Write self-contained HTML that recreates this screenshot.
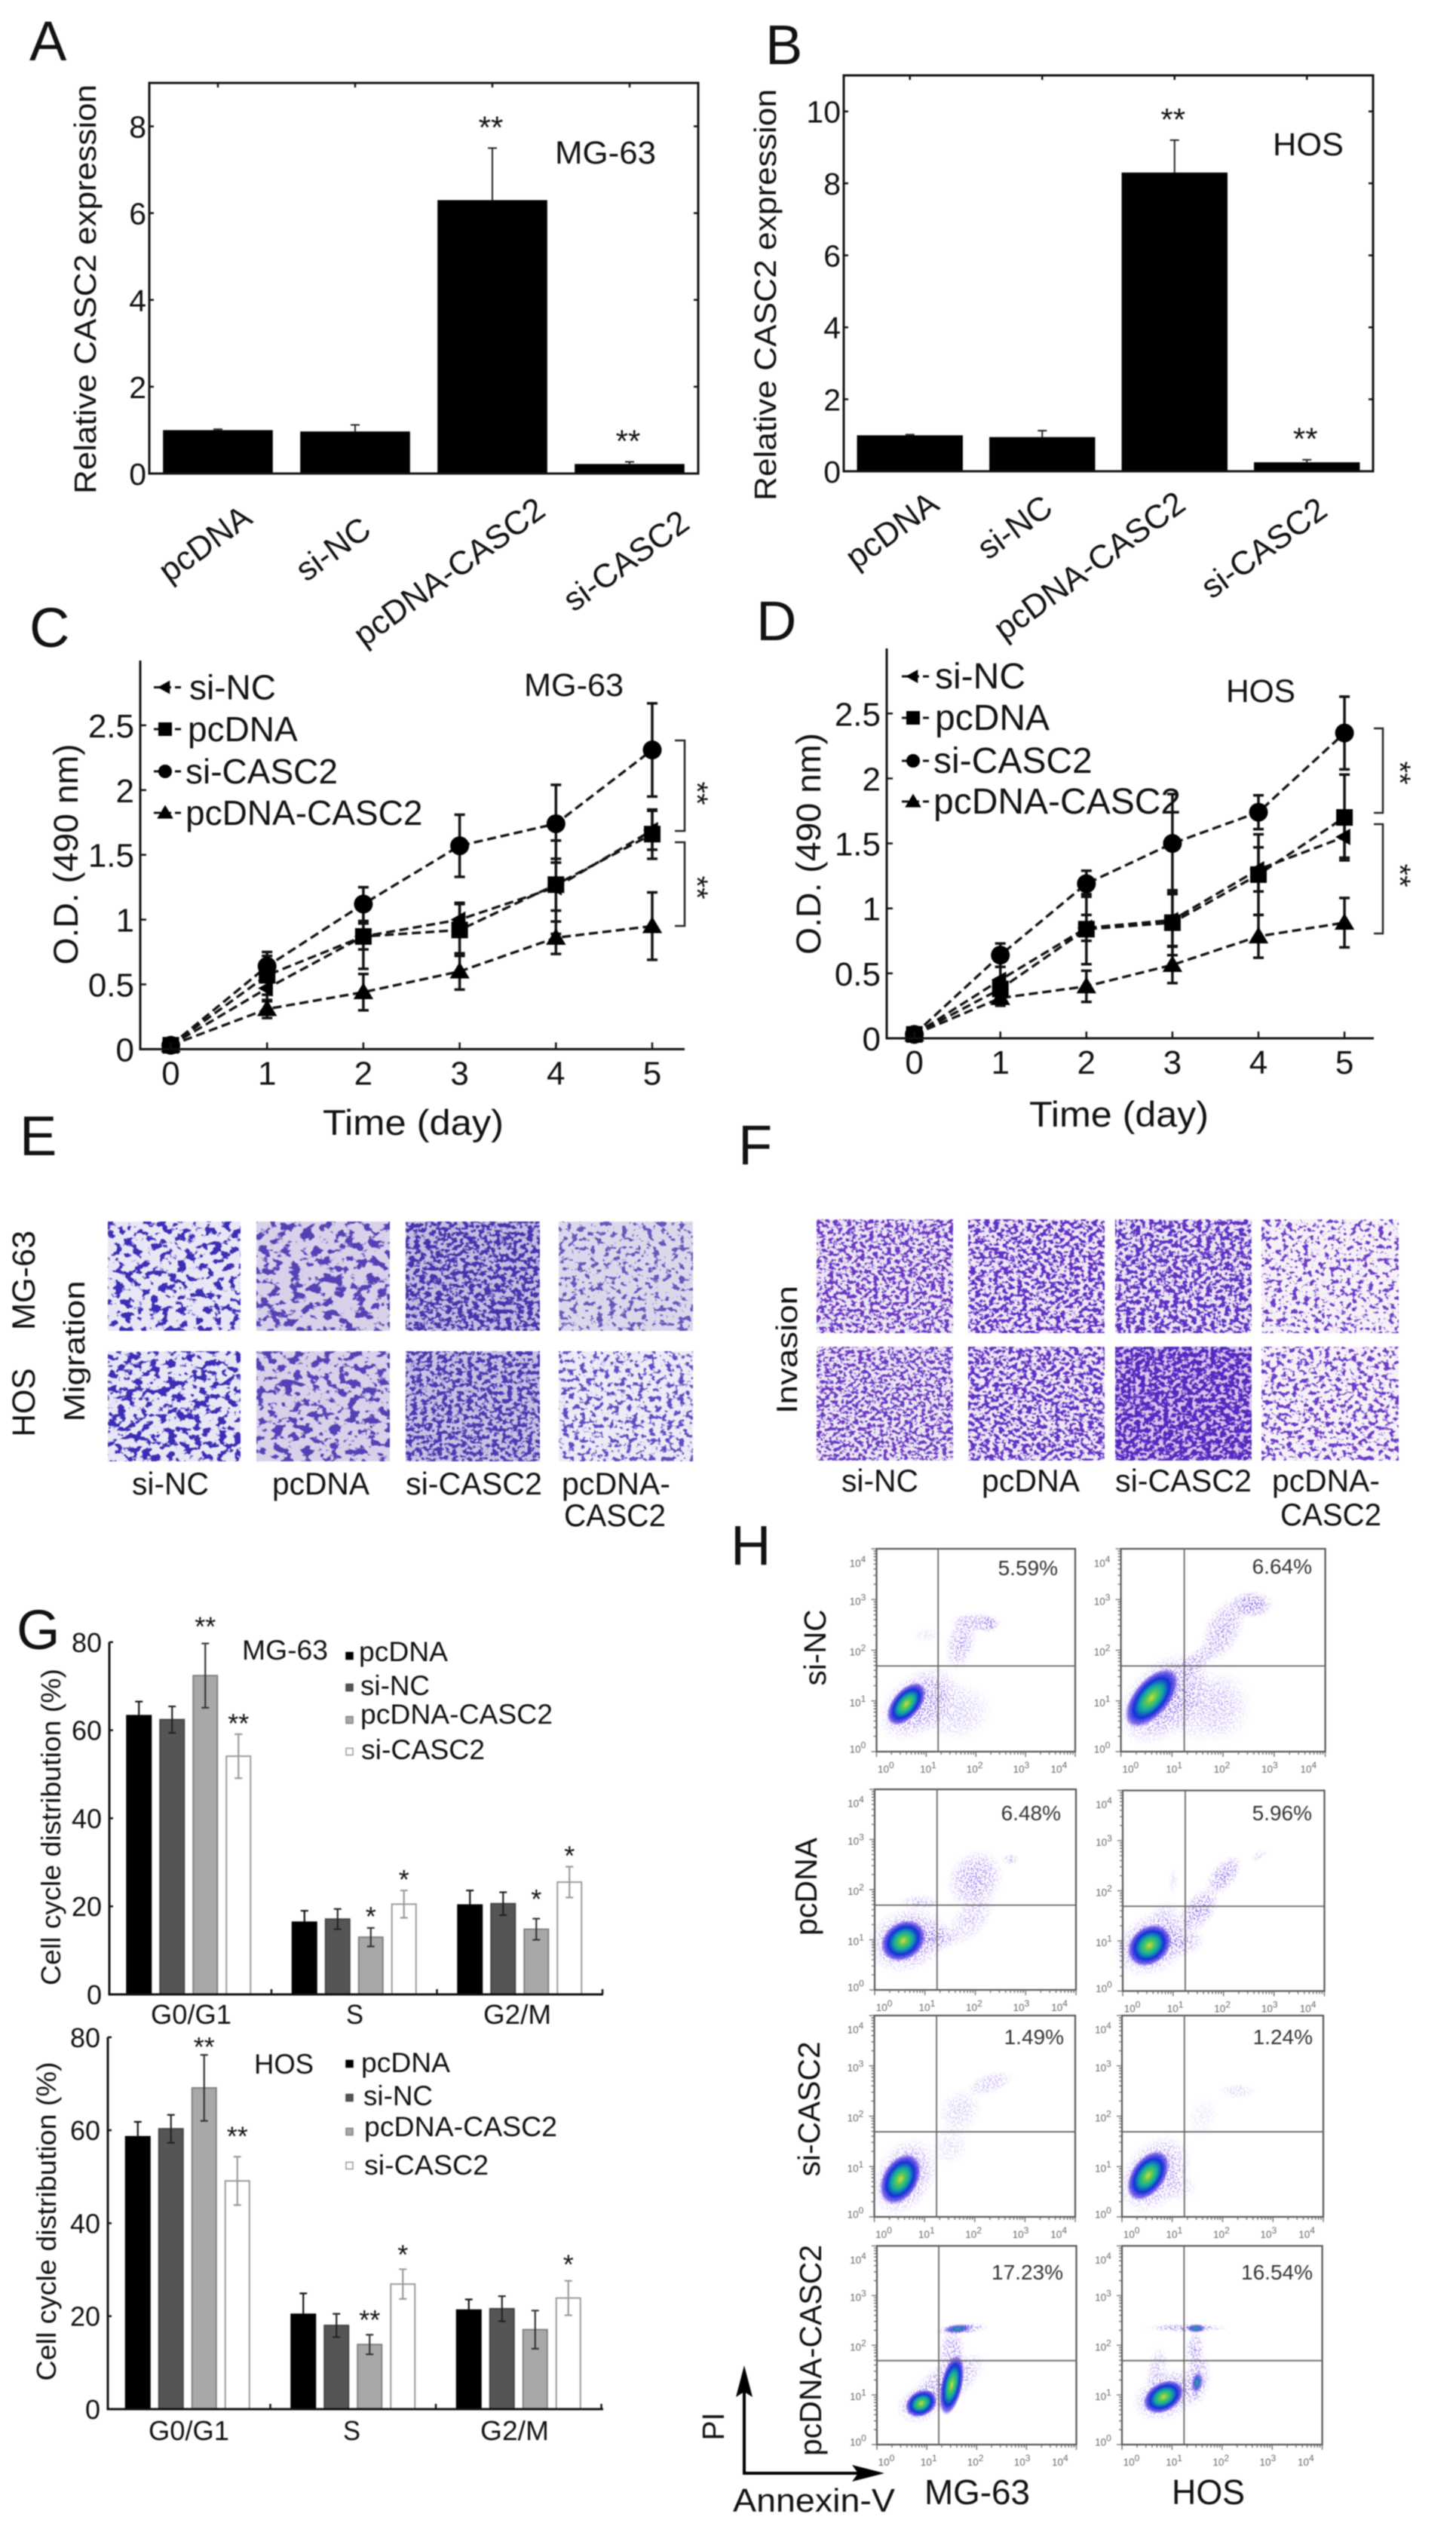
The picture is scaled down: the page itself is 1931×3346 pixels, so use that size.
<!DOCTYPE html>
<html>
<head>
<meta charset="utf-8">
<title>CASC2 figure</title>
<style>
html,body{margin:0;padding:0;background:#fff;}
svg{display:block;font-family:"Liberation Sans",sans-serif;fill:#111;filter:blur(0.7px);}
text{fill:#111;}
</style>
</head>
<body>
<svg id="fig" xmlns="http://www.w3.org/2000/svg" width="1931" height="3346" viewBox="0 0 1931 3346">
<defs id="defs">
  <radialGradient id="coreGrad">
    <stop offset="0" stop-color="#d2dc3c"/>
    <stop offset="0.2" stop-color="#58c858"/>
    <stop offset="0.42" stop-color="#12a8a0"/>
    <stop offset="0.66" stop-color="#1430d8"/>
    <stop offset="0.86" stop-color="#4a30e0" stop-opacity="0.7"/>
    <stop offset="1" stop-color="#8a60e8" stop-opacity="0"/>
  </radialGradient>
  <radialGradient id="weakGrad">
    <stop offset="0" stop-color="#3cb070"/>
    <stop offset="0.3" stop-color="#1a70c0"/>
    <stop offset="0.65" stop-color="#4a40e0" stop-opacity="0.7"/>
    <stop offset="1" stop-color="#8a60e8" stop-opacity="0"/>
  </radialGradient>
  <radialGradient id="hazeGrad">
    <stop offset="0" stop-color="#6a40e0"/>
    <stop offset="0.6" stop-color="#8a60e8" stop-opacity="0.7"/>
    <stop offset="1" stop-color="#b090f0" stop-opacity="0"/>
  </radialGradient>
  <filter id="speckle" x="-10%" y="-10%" width="120%" height="120%" color-interpolation-filters="sRGB">
    <feTurbulence type="fractalNoise" baseFrequency="0.5" numOctaves="1" seed="4" result="n"/>
    <feColorMatrix in="n" type="matrix" values="0 0 0 0 0 0 0 0 0 0 0 0 0 0 0 10 0 0 0 -5" result="m"/>
    <feComposite in="SourceGraphic" in2="m" operator="in"/>
  </filter>
</defs>

<!-- panel letters -->
<g font-size="74">
  <text x="39" y="80">A</text>
  <text x="1015" y="85">B</text>
  <text x="39" y="858">C</text>
  <text x="1003" y="849">D</text>
  <text x="26" y="1532">E</text>
  <text x="979" y="1544">F</text>
  <text x="22" y="2187">G</text>
  <text x="969" y="2075">H</text>
</g>

<!-- panel A/B static labels -->
<text transform="translate(127,383.5) rotate(-90)" text-anchor="middle" font-size="41" textLength="543" lengthAdjust="spacingAndGlyphs">Relative CASC2 expression</text>
<text x="736" y="217" font-size="43" textLength="134" lengthAdjust="spacingAndGlyphs">MG-63</text>
<text transform="translate(1029,391) rotate(-90)" text-anchor="middle" font-size="41" textLength="546" lengthAdjust="spacingAndGlyphs">Relative CASC2 expression</text>
<text x="1688" y="206" font-size="43" textLength="94" lengthAdjust="spacingAndGlyphs">HOS</text>

<!-- panel C/D static labels -->
<text transform="translate(103,1133) rotate(-90)" text-anchor="middle" font-size="45" textLength="293" lengthAdjust="spacingAndGlyphs">O.D. (490 nm)</text>
<text x="428" y="1505" font-size="47" textLength="240" lengthAdjust="spacingAndGlyphs">Time (day)</text>
<text x="695" y="923" font-size="43" textLength="132" lengthAdjust="spacingAndGlyphs">MG-63</text>
<path d="M895 982H908V1102H895M895 1117H908V1228H895" fill="none" stroke="#222" stroke-width="2.5"/>
<text transform="translate(911,1052) rotate(90)" text-anchor="middle" font-size="40">**</text>
<text transform="translate(911,1177) rotate(90)" text-anchor="middle" font-size="40">**</text>

<text transform="translate(1088,1119) rotate(-90)" text-anchor="middle" font-size="45" textLength="294" lengthAdjust="spacingAndGlyphs">O.D. (490 nm)</text>
<text x="1365" y="1494" font-size="47" textLength="238" lengthAdjust="spacingAndGlyphs">Time (day)</text>
<text x="1626" y="931" font-size="43" textLength="92" lengthAdjust="spacingAndGlyphs">HOS</text>
<path d="M1822 966H1834V1078H1822M1822 1093H1834V1238H1822" fill="none" stroke="#222" stroke-width="2.5"/>
<text transform="translate(1843,1025) rotate(90)" text-anchor="middle" font-size="40">**</text>
<text transform="translate(1843,1161) rotate(90)" text-anchor="middle" font-size="40">**</text>

<!-- panel E labels -->
<text transform="translate(46,1698) rotate(-90)" text-anchor="middle" font-size="43" textLength="132" lengthAdjust="spacingAndGlyphs">MG-63</text>
<text transform="translate(46,1860) rotate(-90)" text-anchor="middle" font-size="43" textLength="91" lengthAdjust="spacingAndGlyphs">HOS</text>
<text transform="translate(112,1792) rotate(-90)" text-anchor="middle" font-size="39" textLength="187" lengthAdjust="spacingAndGlyphs">Migration</text>
<g font-size="42">
  <text x="175" y="1982" textLength="102" lengthAdjust="spacingAndGlyphs">si-NC</text>
  <text x="361" y="1982" textLength="129" lengthAdjust="spacingAndGlyphs">pcDNA</text>
  <text x="538" y="1982" textLength="181" lengthAdjust="spacingAndGlyphs">si-CASC2</text>
  <text x="745" y="1982" textLength="144" lengthAdjust="spacingAndGlyphs">pcDNA-</text>
  <text x="748" y="2024" textLength="135" lengthAdjust="spacingAndGlyphs">CASC2</text>
</g>

<!-- panel F labels -->
<text transform="translate(1057,1790) rotate(-90)" text-anchor="middle" font-size="39" textLength="170" lengthAdjust="spacingAndGlyphs">Invasion</text>
<g font-size="42">
  <text x="1116" y="1978" textLength="102" lengthAdjust="spacingAndGlyphs">si-NC</text>
  <text x="1302" y="1978" textLength="130" lengthAdjust="spacingAndGlyphs">pcDNA</text>
  <text x="1479" y="1978" textLength="181" lengthAdjust="spacingAndGlyphs">si-CASC2</text>
  <text x="1687" y="1978" textLength="143" lengthAdjust="spacingAndGlyphs">pcDNA-</text>
  <text x="1698" y="2023" textLength="134" lengthAdjust="spacingAndGlyphs">CASC2</text>
</g>

<!-- panel G labels -->
<text transform="translate(80,2423) rotate(-90)" text-anchor="middle" font-size="36" textLength="420" lengthAdjust="spacingAndGlyphs">Cell cycle distribution (%)</text>
<text x="321" y="2201" font-size="37" textLength="114" lengthAdjust="spacingAndGlyphs">MG-63</text>
<text transform="translate(74,2946) rotate(-90)" text-anchor="middle" font-size="36" textLength="423" lengthAdjust="spacingAndGlyphs">Cell cycle distribution (%)</text>
<text x="337" y="2750" font-size="37" textLength="79" lengthAdjust="spacingAndGlyphs">HOS</text>

<!-- panel H labels -->
<text transform="translate(1095,2185) rotate(-90)" text-anchor="middle" font-size="41" textLength="101" lengthAdjust="spacingAndGlyphs">si-NC</text>
<text transform="translate(1083,2502) rotate(-90)" text-anchor="middle" font-size="41" textLength="130" lengthAdjust="spacingAndGlyphs">pcDNA</text>
<text transform="translate(1087,2797) rotate(-90)" text-anchor="middle" font-size="41" textLength="179" lengthAdjust="spacingAndGlyphs">si-CASC2</text>
<text transform="translate(1089,3117) rotate(-90)" text-anchor="middle" font-size="41" textLength="280" lengthAdjust="spacingAndGlyphs">pcDNA-CASC2</text>
<text transform="translate(960,3218) rotate(-90)" text-anchor="middle" font-size="41" textLength="37" lengthAdjust="spacingAndGlyphs">PI</text>
<text x="972" y="3331" font-size="44" textLength="215" lengthAdjust="spacingAndGlyphs">Annexin-V</text>
<text x="1226" y="3321" font-size="46" textLength="140" lengthAdjust="spacingAndGlyphs">MG-63</text>
<text x="1554" y="3321" font-size="46" textLength="97" lengthAdjust="spacingAndGlyphs">HOS</text>
<path d="M987 3160V3280H1150" fill="none" stroke="#000" stroke-width="4"/>
<path d="M987 3137L998 3179L987 3172L976 3179Z" fill="#000"/>
<path d="M1173 3280L1130 3269L1138 3280L1130 3291Z" fill="#000"/>

<g id="charts"></g>
</svg>

<script>
/* ---------- panels A / B data ---------- */
const exprCategories = ['pcDNA', 'si-NC', 'pcDNA-CASC2', 'si-CASC2'];
const exprStars = ['', '', '**', '**'];
const mgExprValues = [1.0, 0.97, 6.3, 0.22];
const mgExprErrors = [0.02, 0.15, 1.2, 0.05];
const mgExprTicks = [0, 2, 4, 6, 8];
const hosExprValues = [1.0, 0.95, 8.3, 0.25];
const hosExprErrors = [0.02, 0.18, 0.9, 0.07];
const hosExprTicks = [0, 2, 4, 6, 8, 10];

/* ---------- panels C / D data ---------- */
const days = [0, 1, 2, 3, 4, 5];
const odTicks = [0, 0.5, 1, 1.5, 2, 2.5];
const odSeriesNames = ['si-NC', 'pcDNA', 'si-CASC2', 'pcDNA-CASC2'];
const odMarkers = ['left', 'square', 'circle', 'up'];
const mgSiNC = [0.03, 0.47, 0.87, 1.0, 1.25, 1.69];
const mgSiNCErr = [0.01, 0.1, 0.1, 0.13, 0.36, 0.15];
const mgPcDNA = [0.03, 0.57, 0.87, 0.92, 1.27, 1.66];
const mgPcDNAErr = [0.01, 0.15, 0.25, 0.2, 0.2, 0.19];
const mgSiCASC2 = [0.03, 0.64, 1.12, 1.57, 1.74, 2.31];
const mgSiCASC2Err = [0.01, 0.11, 0.13, 0.24, 0.3, 0.36];
const mgPcCASC2 = [0.03, 0.31, 0.44, 0.6, 0.86, 0.95];
const mgPcCASC2Err = [0.01, 0.07, 0.14, 0.14, 0.125, 0.26];
const hosSiNC = [0.03, 0.45, 0.85, 0.91, 1.3, 1.55];
const hosSiNCErr = [0.01, 0.1, 0.1, 0.2, 0.17, 0.16];
const hosPcDNA = [0.03, 0.38, 0.84, 0.89, 1.26, 1.7];
const hosPcDNAErr = [0.01, 0.08, 0.27, 0.25, 0.31, 0.33];
const hosSiCASC2 = [0.03, 0.64, 1.19, 1.5, 1.74, 2.35];
const hosSiCASC2Err = [0.01, 0.09, 0.1, 0.38, 0.13, 0.28];
const hosPcCASC2 = [0.03, 0.31, 0.4, 0.565, 0.785, 0.89];
const hosPcCASC2Err = [0.01, 0.06, 0.12, 0.14, 0.165, 0.19];

/* ---------- panel G data ---------- */
const phases = ['G0/G1', 'S', 'G2/M'];
const cycleSeries = ['pcDNA', 'si-NC', 'pcDNA-CASC2', 'si-CASC2'];
const cycleTicks = [0, 20, 40, 60, 80];
const mgCycle0 = [63.3, 16.4, 20.3];
const mgCycle1 = [62.4, 17.1, 20.6];
const mgCycle2 = [72.4, 13.0, 14.8];
const mgCycle3 = [54.1, 20.5, 25.5];
const mgCycleErr0 = [3.2, 2.6, 3.3];
const mgCycleErr1 = [3.0, 2.3, 2.6];
const mgCycleErr2 = [7.3, 2.1, 2.4];
const mgCycleErr3 = [5.0, 3.1, 3.5];
const mgCycleStars = [['', '', ''], ['', '', ''], ['**', '*', '*'], ['**', '*', '*']];
const mgCycleStarLevels = [[0, 0, 0], [0, 0, 0], [84.2, 18.3, 22.3], [62.2, 26.7, 32.1]];
const hosCycle0 = [58.6, 20.4, 21.3];
const hosCycle1 = [60.3, 18.0, 21.6];
const hosCycle2 = [69.1, 13.9, 17.1];
const hosCycle3 = [49.1, 26.9, 23.9];
const hosCycleErr0 = [3.2, 4.5, 2.3];
const hosCycleErr1 = [3.0, 2.5, 2.7];
const hosCycleErr2 = [7.1, 2.1, 4.1];
const hosCycleErr3 = [5.2, 3.2, 3.7];
const hosCycleStars = [['', '', ''], ['', '', ''], ['**', '**', ''], ['**', '*', '*']];
const hosCycleStarLevels = [[0, 0, 0], [0, 0, 0], [78.5, 19.8, 0], [59.3, 33.8, 31.7]];

/* ---------- panel H data: population centres in axis decades
   [x decade, y decade, long radius, short radius, screen angle, strength] ---------- */
const flowDecades = [0, 1, 2, 3, 4];
const flowGateX = 1.24;
const flowGateY = 1.69;
const flowPercents = ['5.59%', '6.64%', '6.48%', '5.96%', '1.49%', '1.24%', '17.23%', '16.54%'];
const flowCore1 = [[0.6, 0.94, 0.52, 0.28, -50]];
const flowHaze1 = [[0.85, 0.95, 0.95, 0.6, -40, 0.9], [1.6, 0.8, 0.75, 0.6, 0, 0.4], [1.7, 2.15, 0.6, 0.3, -75, 0.65], [2.0, 2.55, 0.55, 0.2, 0, 0.6], [2.25, 2.52, 0.22, 0.18, 0, 0.9], [1.0, 2.3, 0.3, 0.15, 0, 0.2]];
const flowCore2 = [[0.6, 1.06, 0.7, 0.36, -50]];
const flowHaze2 = [[0.85, 1.05, 1.1, 0.72, -45, 1], [1.55, 0.9, 0.9, 0.75, 0, 0.4], [1.5, 1.8, 0.55, 0.22, -40, 0.6], [2.0, 2.4, 0.7, 0.38, -65, 0.7], [2.55, 2.9, 0.45, 0.28, 0, 1], [2.0, 0.9, 0.6, 0.75, 0, 0.28]];
const flowCore3 = [[0.57, 0.98, 0.48, 0.38, -35]];
const flowHaze3 = [[0.65, 1.0, 0.85, 0.65, -20, 0.9], [1.2, 1.05, 0.5, 0.3, 0, 0.8], [2.0, 2.2, 0.65, 0.55, -60, 0.75], [1.9, 1.4, 0.65, 0.35, -50, 0.45], [0.9, 1.75, 0.42, 0.16, 0, 0.45], [2.7, 2.6, 0.18, 0.12, 0, 0.5]];
const flowCore4 = [[0.53, 0.91, 0.48, 0.38, -40]];
const flowHaze4 = [[0.6, 0.95, 0.85, 0.62, -30, 0.9], [1.1, 1.0, 0.55, 0.32, 0, 0.7], [1.5, 1.6, 0.55, 0.32, -50, 0.85], [2.0, 2.3, 0.5, 0.26, -50, 0.85], [0.85, 1.5, 0.32, 0.32, -40, 0.35], [1.0, 2.2, 0.28, 0.1, -85, 0.25], [2.7, 2.7, 0.2, 0.1, -30, 0.35]];
const flowCore5 = [[0.52, 0.75, 0.55, 0.36, -60]];
const flowHaze5 = [[0.6, 0.8, 0.85, 0.6, -60, 0.85], [2.3, 2.65, 0.5, 0.22, -20, 0.45], [1.7, 2.1, 0.5, 0.42, -60, 0.35], [1.5, 1.4, 0.42, 0.38, -60, 0.25]];
const flowCore6 = [[0.52, 0.82, 0.56, 0.34, -55]];
const flowHaze6 = [[0.65, 0.85, 0.9, 0.62, -50, 0.85], [1.1, 0.6, 0.42, 0.32, 0, 0.35], [2.3, 2.5, 0.38, 0.16, 0, 0.3], [1.6, 2.0, 0.42, 0.3, -70, 0.18]];
const flowCore7 = [[1.5, 1.2, 0.62, 0.22, -78], [0.89, 0.83, 0.34, 0.26, -30]];
const flowHaze7 = [[1.7, 2.33, 0.55, 0.12, -5, 0.95], [1.5, 1.85, 0.5, 0.28, -85, 0.75], [1.35, 1.2, 1.0, 0.42, -35, 0.85], [0.85, 0.8, 0.5, 0.38, -20, 0.65]];
const flowWeak7 = [[1.62, 2.33, 0.3, 0.09, -5]];
const flowCore8 = [[0.83, 0.96, 0.44, 0.3, -30]];
const flowHaze8 = [[0.9, 1.0, 0.75, 0.5, -25, 0.85], [1.3, 2.35, 0.85, 0.09, 0, 0.85], [1.5, 1.3, 0.55, 0.28, -80, 0.85], [1.45, 1.9, 0.42, 0.2, -85, 0.7], [0.7, 1.5, 0.5, 0.22, -80, 0.5]];
const flowWeak8 = [[1.48, 2.34, 0.2, 0.09, 0], [1.5, 1.25, 0.22, 0.12, -80]];

const NS = 'http://www.w3.org/2000/svg';
const root = document.getElementById('charts');
const defs = document.getElementById('defs');

function mk(tag, attrs, parent) {
  const e = document.createElementNS(NS, tag);
  for (const k in attrs) e.setAttribute(k, attrs[k]);
  (parent || root).appendChild(e);
  return e;
}
function label(parent, s, x, y, size, anchor) {
  const e = mk('text', { x: x, y: y, 'font-size': size, 'text-anchor': anchor || 'start' }, parent);
  e.textContent = s;
  return e;
}
function group(name) {
  const g = mk('g', {});
  
  
  return g;
}
function fmtTick(v) { return String(v); }

/* ---------- A / B ---------- */
function drawExpression(cfg, values, errors, ticks) {
  const g = group(cfg.name);
  const step = (cfg.right - cfg.left) / values.length;
  const x = i => cfg.left + (i + 0.5) * step;
  const y = v => cfg.bottom - v * (cfg.bottom - cfg.top) / cfg.yMax;
  values.forEach((v, i) => {
    const bar = mk('rect', { x: x(i) - 0.4 * step, y: y(v), width: 0.8 * step, height: cfg.bottom - y(v), fill: '#000' }, g);
    
    
    const top = y(v + errors[i]);
    const err = mk('path', { d: 'M' + x(i) + ' ' + y(v) + 'V' + top + 'M' + (x(i) - 6) + ' ' + top + 'H' + (x(i) + 6), stroke: '#222', 'stroke-width': 2, fill: 'none' }, g);
    
    
    if (exprStars[i]) {
      const st = label(g, exprStars[i], x(i) - 2, top - 37 + 24, 42, 'middle');
      
      
    }
    const tk = mk('path', { d: 'M' + x(i) + ' ' + cfg.top + 'v6', stroke: '#111', 'stroke-width': 2.5 }, g);
    
    
    const e = cfg.labelEnds[i];
    const lab = mk('text', { transform: 'translate(' + e[0] + ',' + e[1] + ') rotate(-36)', 'text-anchor': 'end', 'font-size': 44 }, g);
    lab.textContent = exprCategories[i];
    
    
  });
  const frame = mk('rect', { x: cfg.left, y: cfg.top, width: cfg.right - cfg.left, height: cfg.bottom - cfg.top, fill: 'none', stroke: '#111', 'stroke-width': 3 }, g);
  
  
  ticks.forEach(t => {
    const m = mk('path', { d: 'M' + cfg.left + ' ' + y(t) + 'h6M' + cfg.right + ' ' + y(t) + 'h-6', stroke: '#111', 'stroke-width': 2.5 }, g);
    
    
    const l = label(g, fmtTick(t), cfg.left - 4, y(t) + 15, 41, 'end');
    
    
  });
}
drawExpression({ name: 'chart-a-mg63-expression', left: 198, right: 926, top: 110, bottom: 628, yMax: 9,
  labelEnds: [[337, 692], [495, 708], [726, 682], [917, 699]] }, mgExprValues, mgExprErrors, mgExprTicks);
drawExpression({ name: 'chart-b-hos-expression', left: 1119, right: 1821, top: 100, bottom: 625, yMax: 11,
  labelEnds: [[1248, 674], [1399, 679], [1575, 674], [1763, 682]] }, hosExprValues, hosExprErrors, hosExprTicks);

/* ---------- C / D ---------- */
function drawMarker(g, kind, cx, cy, s) {
  let m;
  if (kind === 'circle') m = mk('circle', { cx: cx, cy: cy, r: s }, g);
  else if (kind === 'square') m = mk('rect', { x: cx - s, y: cy - s, width: 2 * s, height: 2 * s }, g);
  else if (kind === 'up') m = mk('path', { d: 'M' + cx + ' ' + (cy - s * 1.15) + 'l' + (s * 1.2) + ' ' + (s * 2) + 'h' + (-s * 2.4) + 'z' }, g);
  else m = mk('path', { d: 'M' + (cx - s * 1.1) + ' ' + cy + 'l' + (s * 1.8) + ' ' + (-s) + 'v' + (2 * s) + 'z' }, g);
  m.setAttribute('fill', '#000');
  return m;
}
function drawGrowth(cfg, series, errs) {
  const g = group(cfg.name);
  const x = d => cfg.x0 + d * cfg.dx;
  const y = v => cfg.y0 - v * cfg.k;
  series.forEach((vals, s) => {
    days.forEach((d, i) => {
      const yt = y(vals[i] + errs[s][i]), yb = y(vals[i] - errs[s][i]);
      const e = mk('path', { d: 'M' + x(d) + ' ' + yt + 'V' + yb + 'M' + (x(d) - 7) + ' ' + yt + 'h14M' + (x(d) - 7) + ' ' + yb + 'h14', stroke: '#111', 'stroke-width': 3.5, fill: 'none' }, g);
      
      
    });
    const pts = days.map((d, i) => x(d) + ',' + y(vals[i])).join(' ');
    const line = mk('polyline', { points: pts, fill: 'none', stroke: '#111', 'stroke-width': 3.4, 'stroke-dasharray': '12 6' }, g);
    
    
  });
  series.forEach((vals, s) => {
    days.forEach((d, i) => {
      const m = drawMarker(g, odMarkers[s], x(d), y(vals[i]), odMarkers[s] === 'circle' ? 12.5 : 11);
      
      
    });
  });
  const ax = mk('path', { d: 'M' + cfg.axisX + ' ' + cfg.top + 'V' + cfg.y0 + 'H' + cfg.right, fill: 'none', stroke: '#111', 'stroke-width': 3 }, g);
  
  
  days.forEach(d => {
    const t = mk('path', { d: 'M' + x(d) + ' ' + cfg.y0 + 'v-9', stroke: '#111', 'stroke-width': 2.5 }, g);
    
    
    const l = label(g, String(d), x(d), cfg.y0 + 47, 44, 'middle');
    
    
  });
  odTicks.forEach(v => {
    const t = mk('path', { d: 'M' + cfg.axisX + ' ' + y(v) + 'h8', stroke: '#111', 'stroke-width': 2.5 }, g);
    
    
    const l = label(g, fmtTick(v), cfg.axisX - 8, y(v) + 16, 44, 'end');
    
    
  });
  odSeriesNames.forEach((n, s) => {
    const ly = cfg.legendY[s];
    const dash = mk('path', { d: 'M' + cfg.legendX0 + ' ' + ly + 'h36', stroke: '#111', 'stroke-width': 3, 'stroke-dasharray': '9 5' }, g);
    
    
    const m = drawMarker(g, odMarkers[s], cfg.legendX0 + 15, ly, 9);
    
    
    const t = label(g, n, cfg.legendTextX[s], ly + 16, cfg.legendFont);
    
    
  });
}
drawGrowth({ name: 'chart-c-mg63-growth', x0: 226.5, dx: 127.7, y0: 1391.4, k: 171.8, axisX: 186, top: 876, right: 908,
  legendX0: 204, legendY: [911.5, 967, 1023, 1078], legendTextX: [251, 249, 246, 246], legendFont: 46 },
  [mgSiNC, mgPcDNA, mgSiCASC2, mgPcCASC2], [mgSiNCErr, mgPcDNAErr, mgSiCASC2Err, mgPcCASC2Err]);
drawGrowth({ name: 'chart-d-hos-growth', x0: 1212.6, dx: 114.1, y0: 1377, k: 172.3, axisX: 1176, top: 860, right: 1822,
  legendX0: 1196, legendY: [897, 952, 1009, 1063], legendTextX: [1240, 1240, 1238, 1238], legendFont: 48 },
  [hosSiNC, hosPcDNA, hosSiCASC2, hosPcCASC2], [hosSiNCErr, hosPcDNAErr, hosSiCASC2Err, hosPcCASC2Err]);

/* ---------- E / F micrographs: procedural stain texture ---------- */
const micrographNames = ['si-nc', 'pcdna', 'si-casc2', 'pcdna-casc2'];
function drawMicrograph(name, box, look, seed) {
  const id = 'stain' + seed;
  const f = mk('filter', { id: id, x: 0, y: 0, width: 1, height: 1, 'color-interpolation-filters': 'sRGB' }, defs);
  mk('feTurbulence', { type: 'fractalNoise', baseFrequency: look.f + ' ' + (look.f * 1.25), numOctaves: 3, seed: seed, result: 'n' }, f);
  mk('feColorMatrix', { in: 'n', type: 'matrix', values: '0 0 0 0 0 0 0 0 0 0 0 0 0 0 0 12 0 0 0 ' + (-12 * look.t), result: 'a' }, f);
  mk('feFlood', { 'flood-color': look.ink, result: 'c' }, f);
  mk('feComposite', { in: 'c', in2: 'a', operator: 'in', result: 'ink' }, f);
  const mg = mk('feMerge', {}, f);
  mk('feMergeNode', { in: 'SourceGraphic' }, mg);
  mk('feMergeNode', { in: 'ink' }, mg);
  const r = mk('rect', { x: box[0], y: box[1], width: box[2] - box[0], height: box[3] - box[1], fill: look.bg, filter: 'url(#' + id + ')' });
  
  
}
const eCols = [[143, 319], [340, 517], [538, 716], [741, 919]];
const eRows = [[1620, 1765], [1792, 1938]];
const eLooks = [
  [{ bg: '#e9e7f6', ink: '#3a2cb4', f: 0.085, t: 0.53 }, { bg: '#d9d1ea', ink: '#5340b4', f: 0.07, t: 0.52 }, { bg: '#c5bde2', ink: '#4433ac', f: 0.14, t: 0.47 }, { bg: '#dcd8ec', ink: '#6554ba', f: 0.12, t: 0.56 }],
  [{ bg: '#e9e7f6', ink: '#3a2cb4', f: 0.09, t: 0.51 }, { bg: '#d9d1ea', ink: '#5340b4', f: 0.08, t: 0.52 }, { bg: '#c9c1e4', ink: '#4938b0', f: 0.15, t: 0.48 }, { bg: '#ecebf7', ink: '#5b4cc0', f: 0.13, t: 0.54 }]
];
eRows.forEach((row, r) => eCols.forEach((col, c) => {
  drawMicrograph('migration-' + micrographNames[c] + '-' + (r ? 'hos' : 'mg63'), [col[0], row[0], col[1], row[1]], eLooks[r][c], 10 + r * 4 + c);
}));
const fCols = [[1083, 1264], [1284, 1465], [1479, 1660], [1673, 1855]];
const fRows = [[1617, 1768], [1786, 1937]];
const fLooks = [
  [{ bg: '#ece7f4', ink: '#6a35c4', f: 0.17, t: 0.49 }, { bg: '#f0e8f6', ink: '#5f2ec4', f: 0.16, t: 0.48 }, { bg: '#ece6f4', ink: '#5e30c4', f: 0.16, t: 0.47 }, { bg: '#f6f1f8', ink: '#6a3ac8', f: 0.14, t: 0.55 }],
  [{ bg: '#ece7f4', ink: '#6a38c4', f: 0.18, t: 0.49 }, { bg: '#f0e8f6', ink: '#6030c4', f: 0.16, t: 0.48 }, { bg: '#d8c4ec', ink: '#5228c0', f: 0.16, t: 0.43 }, { bg: '#f6f1f8', ink: '#6a3ac8', f: 0.14, t: 0.53 }]
];
fRows.forEach((row, r) => fCols.forEach((col, c) => {
  drawMicrograph('invasion-' + micrographNames[c] + '-' + (r ? 'hos' : 'mg63'), [col[0], row[0], col[1], row[1]], fLooks[r][c], 30 + r * 4 + c);
}));

/* ---------- G ---------- */
const cycleFills = ['#000', '#555', '#a8a8a8', '#fff'];
const cycleStrokes = ['#000', '#444', '#808080', '#999'];
const cycleErrColors = ['#111', '#222', '#333', '#9a9a9a'];
function drawCycle(cfg, series, errs, stars, starLevels) {
  const g = group(cfg.name);
  const x = (p, s) => cfg.xb + (p - 0.5) * cfg.groupW + (s - 1.5) * 44;
  const y = v => cfg.y0 - v * cfg.k;
  series.forEach((vals, s) => vals.forEach((v, p) => {
    const cx = x(p, s);
    const b = mk('rect', { x: cx - 16, y: y(v), width: 32, height: cfg.y0 - y(v), fill: cycleFills[s], stroke: cycleStrokes[s], 'stroke-width': 2 }, g);
    
    
    const yt = y(v + errs[s][p]), yb = y(v - errs[s][p]);
    const e = mk('path', { d: 'M' + cx + ' ' + yt + 'V' + (s === 0 ? y(v) : yb) + 'M' + (cx - 5) + ' ' + yt + 'h10' + (s === 0 ? '' : 'M' + (cx - 5) + ' ' + yb + 'h10'), stroke: cycleErrColors[s], 'stroke-width': 2.2, fill: 'none' }, g);
    
    
    if (stars[s][p]) {
      const st = label(g, stars[s][p], cx, y(starLevels[s][p]) + 16, 36, 'middle');
      
      
    }
  }));
  const ax = mk('path', { d: 'M' + cfg.axisX + ' ' + y(80) + 'V' + cfg.y0 + 'H' + cfg.right, fill: 'none', stroke: '#111', 'stroke-width': 3 }, g);
  
  
  cycleTicks.forEach(v => {
    const t = mk('path', { d: 'M' + cfg.axisX + ' ' + y(v) + 'h5', stroke: '#111', 'stroke-width': 2.5 }, g);
    
    
    const l = label(g, fmtTick(v), cfg.axisX - 10, y(v) + 13, 36, 'end');
    
    
  });
  phases.forEach((p, i) => {
    const t = mk('path', { d: 'M' + (cfg.xb + i * cfg.groupW) + ' ' + cfg.y0 + 'v-7', stroke: '#111', 'stroke-width': 2.5 }, g);
    
    
    const l = mk('text', { x: cfg.labelX[i], y: cfg.labelY, 'font-size': 36, textLength: cfg.labelLen[i], lengthAdjust: 'spacingAndGlyphs' }, g);
    l.textContent = p;
    
    
  });
  cycleSeries.forEach((n, s) => {
    const m = mk('rect', { x: 459, y: cfg.legendMarkY[s] - 4.5, width: 9, height: 9, fill: cycleFills[s], stroke: cycleStrokes[s], 'stroke-width': 1.5 }, g);
    
    
    const t = mk('text', { x: cfg.legendX[s], y: cfg.legendY[s], 'font-size': 37, textLength: cfg.legendLen[s], lengthAdjust: 'spacingAndGlyphs' }, g);
    t.textContent = n;
    
    
  });
}
drawCycle({ name: 'chart-g-mg63-cell-cycle', xb: 360, groupW: 219.5, y0: 2645, k: 5.84, axisX: 145, right: 800,
  labelX: [200, 459, 641], labelY: 2684, labelLen: [107, 23, 90],
  legendMarkY: [2196, 2238, 2281, 2323], legendX: [476, 478, 478, 479], legendY: [2203, 2248, 2286, 2333], legendLen: [118, 92, 255, 164] },
  [mgCycle0, mgCycle1, mgCycle2, mgCycle3], [mgCycleErr0, mgCycleErr1, mgCycleErr2, mgCycleErr3], mgCycleStars, mgCycleStarLevels);
drawCycle({ name: 'chart-g-hos-cell-cycle', xb: 358.5, groupW: 219.5, y0: 3195, k: 6.165, axisX: 143, right: 800,
  labelX: [197, 455, 637], labelY: 3236, labelLen: [107, 23, 91],
  legendMarkY: [2737, 2782, 2827, 2872], legendX: [479, 482, 483, 483], legendY: [2748, 2792, 2833, 2884], legendLen: [118, 92, 256, 165] },
  [hosCycle0, hosCycle1, hosCycle2, hosCycle3], [hosCycleErr0, hosCycleErr1, hosCycleErr2, hosCycleErr3], hosCycleStars, hosCycleStarLevels);

/* ---------- H ---------- */
const flowBoxes = [
  { n: 'si-nc-mg63', l: 1162.5, r: 1426, t: 2054, b: 2323, pe: 1403, py: 2089 },
  { n: 'si-nc-hos', l: 1486.6, r: 1757.6, t: 2054, b: 2323, pe: 1740, py: 2087 },
  { n: 'pcdna-mg63', l: 1160, r: 1427, t: 2373, b: 2639, pe: 1407, py: 2414 },
  { n: 'pcdna-hos', l: 1489, r: 1756.5, t: 2374.5, b: 2640.5, pe: 1740, py: 2414 },
  { n: 'si-casc2-mg63', l: 1159.5, r: 1426, t: 2673, b: 2940, pe: 1411, py: 2711 },
  { n: 'si-casc2-hos', l: 1488, r: 1755, t: 2673, b: 2940, pe: 1741, py: 2711 },
  { n: 'pcdna-casc2-mg63', l: 1163, r: 1427.5, t: 2978.5, b: 3242, pe: 1410, py: 3023 },
  { n: 'pcdna-casc2-hos', l: 1488, r: 1753.6, t: 2978.5, b: 3242, pe: 1741, py: 3023 }
];
const flowHazes = [flowHaze1, flowHaze2, flowHaze3, flowHaze4, flowHaze5, flowHaze6, flowHaze7, flowHaze8];
const flowCores = [flowCore1, flowCore2, flowCore3, flowCore4, flowCore5, flowCore6, flowCore7, flowCore8];
const flowWeaks = [[], [], [], [], [], [], flowWeak7, flowWeak8];
flowBoxes.forEach((b, i) => {
  const g = group('flow-plot-' + b.n);
  const sx = (b.r - b.l) / 4, sy = (b.b - b.t) / 4;
  const x = d => b.l + d * sx, y = d => b.b - d * sy;
  const blob = (parent, c, grad, op) => {
    const e = mk('ellipse', { cx: x(c[0]), cy: y(c[1]), rx: c[2] * sx, ry: c[3] * sy, fill: 'url(#' + grad + ')', opacity: op,
      transform: 'rotate(' + c[4] + ' ' + x(c[0]) + ' ' + y(c[1]) + ')' }, parent);
    
    
    return e;
  };
  const haze = mk('g', { filter: 'url(#speckle)' }, g);
  
  
  flowHazes[i].forEach(c => blob(haze, c, 'hazeGrad', c[5]));
  flowCores[i].forEach(c => blob(g, c, 'coreGrad', 1));
  flowWeaks[i].forEach(c => blob(g, c, 'weakGrad', 0.95));
  const frame = mk('rect', { x: b.l, y: b.t, width: b.r - b.l, height: b.b - b.t, fill: 'none', stroke: '#555', 'stroke-width': 2.2 }, g);
  
  
  const gates = mk('path', { d: 'M' + x(flowGateX) + ' ' + b.t + 'V' + b.b + 'M' + b.l + ' ' + y(flowGateY) + 'H' + b.r, stroke: '#666', 'stroke-width': 1.8, fill: 'none' }, g);
  
  
  let d = '';
  flowDecades.forEach(dec => {
    d += 'M' + x(dec) + ' ' + b.b + 'v7M' + b.l + ' ' + y(dec) + 'h-7';
    if (dec < 4) [2, 3, 4, 5, 6, 7, 8, 9].forEach(k => {
      d += 'M' + x(dec + Math.log10(k)) + ' ' + b.b + 'v4M' + b.l + ' ' + y(dec + Math.log10(k)) + 'h-4';
    });
  });
  const ticks = mk('path', { d: d, stroke: '#666', 'stroke-width': 1.3, fill: 'none' }, g);
  
  
  const yPos = [0.9875, 0.758, 0.508, 0.258, 0.07];
  const xPos = [0.047, 0.26, 0.494, 0.728, 0.918];
  flowDecades.forEach((dec, k) => {
    [[b.l - 25, b.t + yPos[k] * (b.b - b.t) + 5], [b.l + xPos[k] * (b.r - b.l), b.b + 28]].forEach((p, axis) => {
      const t = mk('text', { x: p[0], y: p[1], 'font-size': 13.5, 'text-anchor': 'middle' }, g);
      t.style.fill = '#666';
      t.textContent = '10';
      const sup = mk('tspan', { dy: -6, 'font-size': 12 }, t);
      sup.textContent = String(dec);
      sup.style.fill = '#666';
      
      
    });
  });
  const pct = label(g, flowPercents[i], b.pe, b.py, 28, 'end');
  pct.style.fill = '#333';
  
  
});
</script>
</body>
</html>
